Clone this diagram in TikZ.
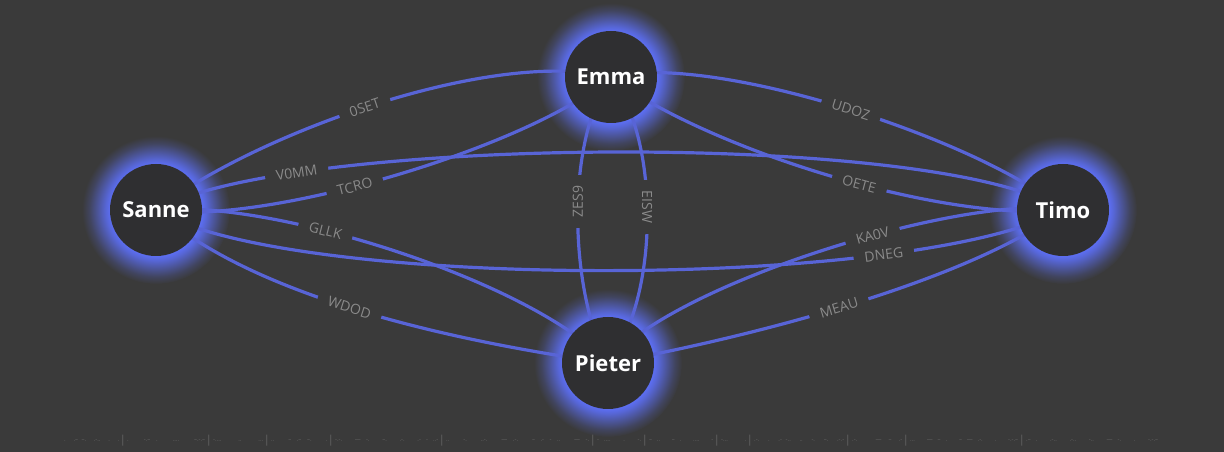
\documentclass[tikz,border=0pt]{standalone}
\usepackage{fontspec}
\setmainfont{Open Sans}
\definecolor{bgcol}{HTML}{3A3A3A}
\definecolor{nodecol}{HTML}{2F2F31}
\definecolor{edgecol}{HTML}{5864D6}
\definecolor{glowcol}{HTML}{5C6EF2}
\definecolor{lblcol}{HTML}{8A8A8A}
\definecolor{morsecol}{HTML}{666666}
\pgfdeclareradialshading{nodeglow}{\pgfpoint{0bp}{0bp}}{color(0bp)=(glowcol); color(15.5bp)=(glowcol); color(17bp)=(glowcol!85!bgcol); color(19.5bp)=(glowcol!55!bgcol); color(22.5bp)=(glowcol!20!bgcol); color(25bp)=(bgcol); color(50bp)=(bgcol)}
\pgfdeclarelayer{back}
\pgfsetlayers{back,main}

\begin{document}
\begin{tikzpicture}[x=1pt, y=1pt]
        \tikzstyle{person}=[circle, fill=nodecol, minimum size=92pt, inner sep=0pt, text=white, font=\fontsize{22}{22}\selectfont\bfseries];
        \tikzstyle{link}=[draw=edgecol, line width=3.2pt];
        \tikzstyle{tag}=[fill=bgcol, text=lblcol, inner xsep=11pt, inner ysep=1pt, font=\fontsize{14}{14}\selectfont];
        \tikzstyle{stag}=[tag, sloped];
        \tikzstyle{morse}=[text=morsecol, inner sep=0pt, font=\fontsize{6}{6}\selectfont];
        \begin{pgfonlayer}{back}
            \fill[bgcol] (0,0) rectangle (1224,452);
        \end{pgfonlayer}
        \foreach \id/\who/\x/\y in {sanne/Sanne/156/242, emma/Emma/611/375, timo/Timo/1063/242, pieter/Pieter/608/89} {
            \begin{pgfonlayer}{back}
                \shade[shading=nodeglow] (\x,\y) circle (74);
            \end{pgfonlayer}
            \node[person] (\id) at (\x,\y) {\who};
        }
        \begin{pgfonlayer}{back}
        \draw[link] (sanne.center) .. controls +(38:122) and +(166:122) .. (emma.center) node[stag, pos=0.48] {0SET};
        \draw[link] (sanne.center) .. controls +(-9:107) and +(221:107) .. (emma.center) node[stag, pos=0.43] {TCRO};
        \draw[link] (sanne.center) .. controls +(30:148) and +(147:148) .. (timo.center) node[stag, pos=0.21] {V0MM};
        \draw[link] (sanne.center) .. controls +(-32:150) and +(208:175) .. (timo.center) node[stag, pos=0.76] {DNEG};
        \draw[link] (sanne.center) .. controls +(6:113) and +(133:113) .. (pieter.center) node[stag, pos=0.37] {GLLK};
        \draw[link] (sanne.center) .. controls +(-42:137) and +(172:137) .. (pieter.center) node[stag, pos=0.46] {WDOD};
        \draw[link] (emma.center) .. controls +(14:105) and +(139:105) .. (timo.center) node[stag, pos=0.51] {UDOZ};
        \draw[link] (emma.center) .. controls +(-37:120) and +(186:120) .. (timo.center) node[stag, pos=0.56] {OETE};
        \draw[link] (emma.center) .. controls +(234:79) and +(119:79) .. (pieter.center) node[tag, rotate=90, pos=0.45] {ZES9};
        \draw[link] (emma.center) .. controls +(-52:81) and +(51:81) .. (pieter.center) node[tag, rotate=-90, pos=0.46] {EISW};
        \draw[link] (pieter.center) .. controls +(53:98) and +(170:98) .. (timo.center) node[stag, pos=0.59] {KA0V};
        \draw[link] (pieter.center) .. controls +(10:124) and +(217:124) .. (timo.center) node[stag, pos=0.49] {MEAU};
        \end{pgfonlayer}
        % strip of dots and dashes along the bottom
        \foreach \a/\b/\code in {60/123/{. .-- --. .-.. . .}, 123/209/{. -.-- . .... --.-.--}, 209/267/{-.... .. ...}, 267/331/{.. -- .-- --. .}, 331/442/{-.-. --- -. --. .-. .- - ..-}, 442/593/{.. -. ..-. --- .-. -- .- - .. --- -.}, 593/645/{- .... . -.}, 645/717/{-- .. -- . .... -}, 717/750/{-... .}, 750/848/{.-. . .- -.. .. -. --. .-.-}, 848/906/{.-. --- -- .-}, 906/1022/{... --- -- . -- --- .-. . -.-.--}, 1022/1162/{.-- . .-.. .-.. -.. --- -. . -.-.--}} {
            \pgfmathsetmacro\w{\b-\a-8}
            \node[morse, anchor=west] at (\a+4,11) {\makebox[\w pt][s]{\code}};
            \ifnum\b<1100 \node[morse, font=\fontsize{11}{11}\selectfont] at (\b,11) {|}; \fi
        }
\end{tikzpicture}
\end{document}
